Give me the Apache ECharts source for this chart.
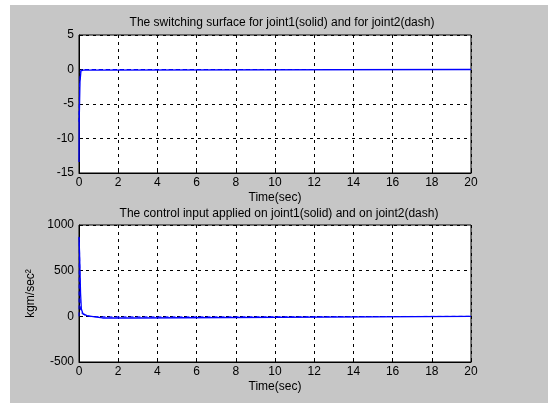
<!DOCTYPE html>
<html>
<head>
<meta charset="utf-8">
<script src="https://cdn.jsdelivr.net/npm/echarts@6/dist/echarts.min.js"></script>
<style>
  html, body { margin: 0; padding: 0; background: #fff; }
  #chart { width: 548px; height: 403px; }
</style>
</head>
<body>
<div id="chart"></div>
<script>
// switching surface, time in sec
var surfT1 = [0, 0.01, 0.05, 0.1, 0.13, 0.17, 0.22, 0.3, 20];
var surfJ1 = [-13.4, -7.6, -1.8, -0.2, -0.4, 0, -0.1, 0, 0];
var surfT2 = [0, 0.03, 0.07, 0.12, 20];
var surfJ2 = [-7.6, -2, -0.3, 0, 0];

// control input, kgm/sec^2
var ctrlT1 = [0, 0.03, 0.08, 0.12, 0.2, 0.4, 0.8, 1.2, 2.8, 2.85, 20];
var ctrlJ1 = [870, 680, 250, 80, 30, 8, -5, -18, -18, -2, 0];
var ctrlT2 = [0, 0.02, 0.06, 0.1, 0.3, 0.6, 1.5, 8, 8.05, 20];
var ctrlJ2 = [0, 860, 120, 40, 10, -3, -6, -6, 0, 0];

function pairs(t, v) {
    var out = [];
    for (var i = 0; i < t.length; i++) out.push([t[i], v[i]]);
    return out;
}

var font = 'Liberation Sans, Arial, sans-serif';
var dash = { type: [3, 4], color: '#000', width: 1 };

function xAxisFor(idx) {
    return {
        gridIndex: idx, type: 'value', min: 0, max: 20, interval: 2,
        name: 'Time(sec)', nameLocation: 'middle', nameGap: 19,
        nameTextStyle: { color: '#000', fontSize: 12, fontFamily: font },
        axisLine: { onZero: false, lineStyle: { color: '#000' } },
        axisTick: { inside: true, length: 4, lineStyle: { color: '#000' } },
        axisLabel: { color: '#000', fontSize: 12, fontFamily: font, margin: 4 },
        splitLine: { show: true, lineStyle: dash }
    };
}

function yAxisFor(idx, min, max, step, name) {
    return {
        gridIndex: idx, type: 'value', min: min, max: max, interval: step,
        name: name || '', nameLocation: 'middle', nameGap: 36, nameRotate: 90,
        nameTextStyle: { color: '#000', fontSize: 12, fontFamily: font },
        axisLine: { onZero: false, lineStyle: { color: '#000' } },
        axisTick: { inside: true, length: 4, lineStyle: { color: '#000' } },
        axisLabel: { color: '#000', fontSize: 12, fontFamily: font, margin: 5,
                     formatter: function (v) { return String(v); } },
        splitLine: { show: true, lineStyle: dash }
    };
}

var lineBase = { type: 'line', symbol: 'none', zlevel: 1, z: 5 };

var myChart = echarts.init(document.getElementById('chart'));
var option = {
    backgroundColor: '#fff',
    animation: false,
    graphic: [{
        type: 'rect', z: -10, silent: true,
        shape: { x: 10, y: 5, width: 538, height: 398 },
        style: { fill: '#c6c6c6' }
    }],
    title: [
        { text: 'The switching surface for joint1(solid) and for joint2(dash)', left: 277, top: 12, textAlign: 'center',
          textStyle: { color: '#000', fontSize: 12, fontWeight: 'normal', fontFamily: font } },
        { text: 'The control input applied on joint1(solid) and on joint2(dash)', left: 274, top: 203, textAlign: 'center',
          textStyle: { color: '#000', fontSize: 12, fontWeight: 'normal', fontFamily: font } }
    ],
    grid: [
        { left: 79, top: 35, width: 392, height: 138, show: true, backgroundColor: '#fff', borderColor: '#000', borderWidth: 1 },
        { left: 79, top: 225, width: 392, height: 137, show: true, backgroundColor: '#fff', borderColor: '#000', borderWidth: 1 }
    ],
    xAxis: [xAxisFor(0), xAxisFor(1)],
    yAxis: [yAxisFor(0, -15, 5, 5), yAxisFor(1, -500, 1000, 500, 'kgm/sec\u00B2')],
    series: [
        echarts.util.merge({ xAxisIndex: 0, yAxisIndex: 0, data: pairs(surfT1, surfJ1),
          lineStyle: { color: '#0000ff', width: 1.3 } }, lineBase),
        echarts.util.merge({ xAxisIndex: 0, yAxisIndex: 0, data: pairs(surfT2, surfJ2),
          lineStyle: { color: '#0000ff', width: 1, type: [4, 3] } }, lineBase),
        echarts.util.merge({ xAxisIndex: 1, yAxisIndex: 1, data: pairs(ctrlT1, ctrlJ1),
          lineStyle: { color: '#0000ff', width: 1.3 } }, lineBase),
        echarts.util.merge({ xAxisIndex: 1, yAxisIndex: 1, data: pairs(ctrlT2, ctrlJ2),
          lineStyle: { color: '#0000ff', width: 1, type: [4, 3] } }, lineBase)
    ]
};
myChart.setOption(option);
window.onresize = myChart.resize;
</script>
</body>
</html>
